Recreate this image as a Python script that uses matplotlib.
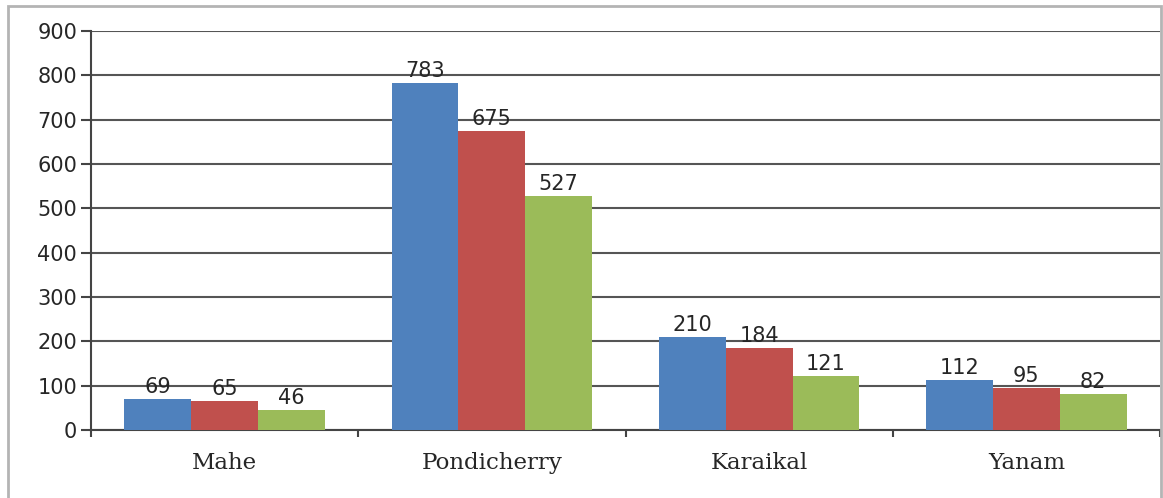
import matplotlib.pyplot as plt
import numpy as np
from matplotlib.patches import Rectangle

regions = ["Mahe", "Pondicherry", "Karaikal", "Yanam"]
series_a = [69, 783, 210, 112]
series_b = [65, 675, 184, 95]
series_c = [46, 527, 121, 82]
colors = ["#4F81BD", "#C0504D", "#9BBB59"]

plt.rcParams['font.family'] = ['DejaVu Sans']

fig = plt.figure(figsize=(11.63, 4.98), dpi=100)
ax = fig.add_axes([91 / 1163, 1 - 430 / 498, (1160 - 91) / 1163, (430 - 31) / 498])

# grey frame around the chart
fig.patches.append(Rectangle((8 / 1163, -0.1), (1161 - 8) / 1163, 1.1 - 6 / 498,
                             transform=fig.transFigure, fill=False,
                             edgecolor="#b4b4b4", linewidth=2))

x = np.arange(len(regions))
w = 0.25
for i, vals in enumerate([series_a, series_b, series_c]):
    bars = ax.bar(x + (i - 1) * w, vals, w, color=colors[i], zorder=3)
    for b, v in zip(bars, vals):
        ax.annotate(str(v), (b.get_x() + b.get_width() / 2, v), xytext=(0, 1.5),
                    textcoords="offset points", ha="center", va="bottom",
                    fontsize=15, color="#262626", zorder=4)

ax.set_xlim(-0.5, 3.5)
ax.set_ylim(0, 900)
ax.set_yticks(range(0, 901, 100))
ax.yaxis.grid(True, color="#555555", linewidth=1.5, zorder=0)
ax.set_axisbelow(True)

ax.set_xticks(np.arange(-0.5, 4, 1))
ax.set_xticklabels([])
ax.set_xticks(x, minor=True)
ax.set_xticklabels(regions, minor=True, family="DejaVu Serif")
ax.tick_params(axis="x", which="major", length=5, width=1.5, color="#444444")
ax.tick_params(axis="x", which="minor", length=0, pad=16, labelsize=16.5, labelcolor="#262626")
ax.tick_params(axis="y", length=7, width=1.5, color="#444444", labelsize=15, labelcolor="#262626", pad=3)

for s in ["top", "right"]:
    ax.spines[s].set_visible(False)
ax.spines["left"].set_color("#444444")
ax.spines["left"].set_linewidth(1.5)
ax.spines["bottom"].set_color("#444444")
ax.spines["bottom"].set_linewidth(1.5)

plt.savefig("out.png", dpi=100)
